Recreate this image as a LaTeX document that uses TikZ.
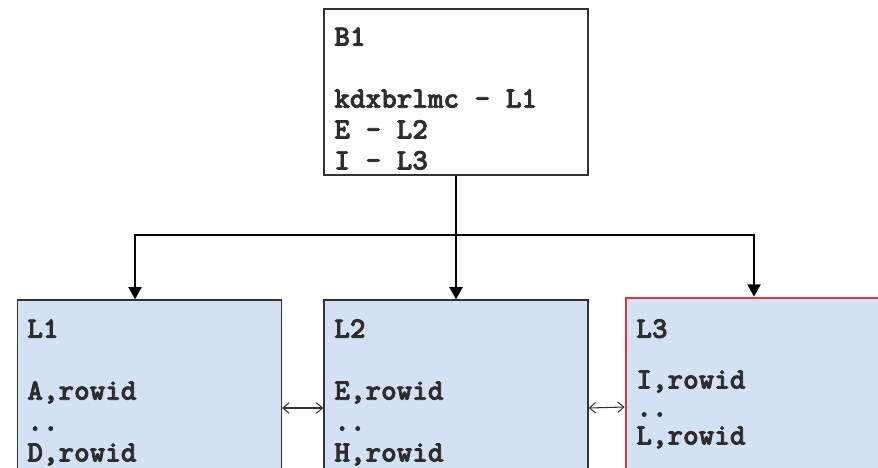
\documentclass[tikz,border=0pt]{standalone}
\usepackage{fontspec}
\newfontfamily\codefont{lmmonolt10-bold}[Extension=.otf, FakeBold=2.5]
\usetikzlibrary{arrows.meta, positioning}

\definecolor{leafblue}{RGB}{212,225,245}
\definecolor{leafred}{RGB}{222,52,58}
\definecolor{textgray}{RGB}{45,45,45}

\begin{document}
\begin{tikzpicture}[x=0.02cm, y=-0.02cm,
    box/.style={draw=black!80, line width=0.8pt, inner sep=0pt, minimum width=5.28cm},
    leaf/.style={box, fill=leafblue, minimum height=3.8cm},
    label/.style={anchor=north west, inner sep=0pt, align=left, text=textgray,
        font=\codefont\fontsize{16.9}{17.6}\selectfont},
    arr/.style={black, line width=1.1pt, -{Triangle[width=7.5pt, length=7pt]}},
    link/.style={black!80, line width=0.6pt, {Straight Barb[width=6pt, length=3.5pt]}-{Straight Barb[width=6pt, length=3.5pt]}}]
\useasboundingbox (0,0) rectangle (878,467);
\clip (0,0) rectangle (878,467);

% branch block
\node[box, fill=white, minimum height=3.32cm] (b1) at (456,92) {};
\node[label] (b1text) at (334,27) {B1\\[17.6pt]kdxbrlmc - L1\\E - L2\\I - L3};

% leaf blocks
\node[leaf] (l1) at (149.5,395) {};
\node[leaf] (l2) at (456,395) {};
\node[leaf, draw=leafred, line width=1.6pt, minimum height=3.84cm] (l3) at (758,394) {};
\node[label] (l1text) at (27,319) {L1\\[17.6pt]A,rowid\\..\\D,rowid};
\node[label] (l2text) at (334,319) {L2\\[17.6pt]E,rowid\\..\\H,rowid};
\node[label, font=\codefont\fontsize{16.9}{15.9}\selectfont] (l3text) at (636,319) {L3\\[13pt]I,rowid\\..\\L,rowid};

% pointers
\coordinate (split) at (456,235);
\draw[arr] (b1) -- (l2);
\draw[arr] (split) -| ([xshift=-0.29cm]l1.north);
\draw[arr] (split) -| ([xshift=-0.08cm]l3.north);
\draw[link] ([yshift=-0.26cm]l1.east) -- ([yshift=-0.26cm]l2.west);
\draw[link] ([yshift=-0.26cm]l2.east) -- ([yshift=-0.26cm]l3.west);

\end{tikzpicture}
\end{document}
